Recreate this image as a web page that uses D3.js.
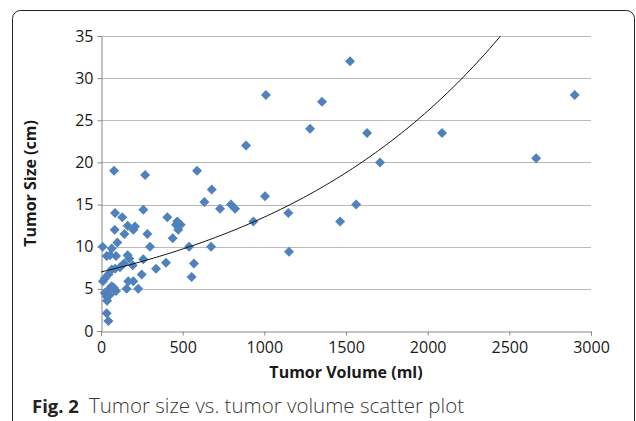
<!DOCTYPE html>
<html>
<head>
<meta charset="utf-8">
<script src="https://cdnjs.cloudflare.com/ajax/libs/d3/7.8.5/d3.min.js"></script>
<style>
  html, body { margin: 0; padding: 0; background: #fff; }
  svg { display: block; }
  text { font-family: "Open Sans", "Noto Sans", sans-serif; }
</style>
</head>
<body>
<div id="chart"></div>
<script>
// Tumor volume (ml) vs tumor size (cm)
const volume = [
  1525, 2900, 1010, 1353, 1280, 1629, 2088, 2664, 1708, 888,
  588, 80, 270, 678, 633, 729, 796, 821, 1004, 933,
  1147, 1151, 1562, 1464, 259, 406, 86, 130, 84, 163,
  208, 198, 143, 284, 467, 459, 488, 473, 439, 100,
  10, 66, 35, 55, 92, 163, 173, 300, 539, 674,
  259, 141, 194, 116, 86, 66, 337, 398, 569, 555,
  249, 45, 24, 12, 198, 167, 157, 228, 66, 80,
  45, 23, 35, 55, 92, 37, 35, 45
];
const size = [
  32, 28, 28, 27.2, 24, 23.5, 23.5, 20.5, 20, 22,
  19, 19, 18.5, 16.8, 15.3, 14.5, 15, 14.5, 16, 13,
  14, 9.4, 15, 13, 14.4, 13.5, 14, 13.5, 12, 12.5,
  12.4, 12, 11.5, 11.5, 13, 12.6, 12.6, 12, 11, 10.5,
  10, 9.8, 8.9, 9, 8.9, 9, 8.6, 10, 10, 10,
  8.5, 8, 7.8, 7.55, 7.4, 7.3, 7.4, 8.1, 8, 6.4,
  6.7, 6.7, 6.25, 5.9, 5.9, 5.9, 5.0, 5.0, 5.3, 5.1,
  4.9, 4.5, 4.1, 4.3, 4.75, 3.6, 2.1, 1.2
];
const xTicks = [0, 500, 1000, 1500, 2000, 2500, 3000];
const yTicks = [0, 5, 10, 15, 20, 25, 30, 35];
// exponential trendline y = a * e^(b x)
const trendA = 7.0;
const trendB = 0.000658;

const width = 636, height = 421;
const plot = { left: 101, right: 591, top: 36, bottom: 331 };

const svg = d3.select('#chart').append('svg')
  .attr('width', width)
  .attr('height', height);

// outer frame
svg.append('rect')
  .attr('x', 12.5).attr('y', 10.5)
  .attr('width', 622).attr('height', 460)
  .attr('rx', 8)
  .attr('fill', 'none')
  .attr('stroke', '#222')
  .attr('stroke-width', 1);

const x = d3.scaleLinear().domain([0, 3000]).range([plot.left, plot.right]);
const y = d3.scaleLinear().domain([0, 35]).range([plot.bottom, plot.top]);

// gridlines
svg.append('g')
  .selectAll('line')
  .data(yTicks.filter(t => t > 0))
  .join('line')
  .attr('x1', plot.left).attr('x2', plot.right)
  .attr('y1', d => Math.round(y(d)) + 0.5)
  .attr('y2', d => Math.round(y(d)) + 0.5)
  .attr('stroke', '#b8b8b8');

// axes
const xAxis = svg.append('g')
  .attr('transform', `translate(0,${plot.bottom + 0.5})`)
  .call(d3.axisBottom(x).tickValues(xTicks).tickFormat(d3.format('d')).tickSize(4).tickPadding(6));
const yAxis = svg.append('g')
  .attr('transform', `translate(${plot.left + 0.5},0)`)
  .call(d3.axisLeft(y).tickValues(yTicks).tickFormat(d3.format('d')).tickSize(4).tickPadding(4));

[xAxis, yAxis].forEach(a => {
  a.select('.domain').attr('stroke', '#868686');
  a.selectAll('.tick line').attr('stroke', '#868686');
  a.selectAll('.tick text')
    .attr('fill', '#1a1a1a')
    .style('font-size', '16px')
    .style('font-family', '"Open Sans", sans-serif');
});

// clip region for trendline
svg.append('clipPath').attr('id', 'plotclip')
  .append('rect')
  .attr('x', plot.left).attr('y', plot.top)
  .attr('width', plot.right - plot.left).attr('height', plot.bottom - plot.top);

// points
const pts = volume.map((v, i) => ({ v, s: size[i] }));
const diamond = d3.symbol().type(d3.symbolSquare).size(50);
svg.append('g')
  .selectAll('path')
  .data(pts)
  .join('path')
  .attr('d', diamond)
  .attr('transform', d => `translate(${x(d.v)},${y(d.s)}) rotate(45)`)
  .attr('fill', '#4f81bd');

// trendline
const trendX = d3.range(0, 3001, 20);
svg.append('path')
  .datum(trendX)
  .attr('clip-path', 'url(#plotclip)')
  .attr('d', d3.line().x(d => x(d)).y(d => y(trendA * Math.exp(trendB * d))))
  .attr('fill', 'none')
  .attr('stroke', '#111')
  .attr('stroke-width', 1);

// axis titles
svg.append('text')
  .attr('x', (plot.left + plot.right) / 2)
  .attr('y', 378)
  .attr('text-anchor', 'middle')
  .style('font-size', '16px')
  .style('font-weight', 'bold')
  .attr('fill', '#1a1a1a')
  .text('Tumor Volume (ml)');

svg.append('text')
  .attr('transform', `translate(36,${(plot.top + plot.bottom) / 2}) rotate(-90)`)
  .attr('text-anchor', 'middle')
  .style('font-size', '16px')
  .style('font-weight', 'bold')
  .attr('fill', '#1a1a1a')
  .text('Tumor Size (cm)');

// caption
const cap = svg.append('text')
  .attr('x', 32)
  .attr('y', 413)
  .attr('fill', '#3a3a3a');
cap.append('tspan').style('font-size', '18.5px').style('font-weight', 'bold').attr('fill', '#222').text('Fig. 2');
cap.append('tspan').attr('dx', 10).style('font-size', '20.5px').style('font-weight', '300').text('Tumor size vs. tumor volume scatter plot');
</script>
</body>
</html>
